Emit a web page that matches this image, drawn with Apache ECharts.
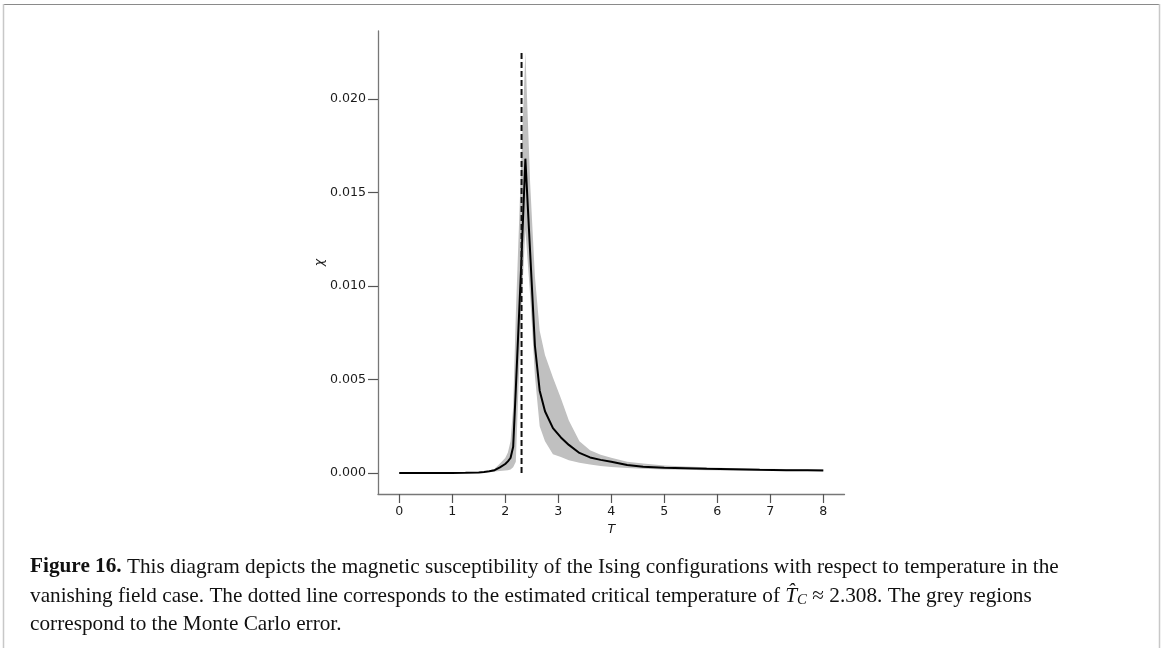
<!DOCTYPE html>
<html>
<head>
<meta charset="utf-8">
<script src="https://cdn.jsdelivr.net/npm/echarts@6/dist/echarts.min.js"></script>
<style>
html,body{margin:0;padding:0;background:#fff;}
#chart{width:1163px;height:648px;}
</style>
</head>
<body>
<div id="chart"></div>
<script>
// ---- data ----
const T = [0, 0.25, 0.5, 0.75, 1.0, 1.25, 1.5, 1.6, 1.7, 1.8, 1.9, 2.0, 2.05, 2.1, 2.15, 2.2, 2.3, 2.38, 2.47, 2.56, 2.65, 2.75, 2.9, 3.05, 3.2, 3.4, 3.6, 3.8, 4.0, 4.3, 4.6, 5.0, 5.4, 5.8, 6.3, 6.8, 7.3, 7.7, 8.0];
const chi = [0, 0, 0, 0.000001, 0.000003, 0.000008, 0.00003, 0.00005, 0.00009, 0.00015, 0.0003, 0.00048, 0.00062, 0.0008, 0.0014, 0.0045, 0.011, 0.0168, 0.0118, 0.0068, 0.0044, 0.0033, 0.0024, 0.0019, 0.0015, 0.00107, 0.00083, 0.0007, 0.0006, 0.00043, 0.00033, 0.00028, 0.00025, 0.00022, 0.0002, 0.00017, 0.00015, 0.00014, 0.00013];
const chiHigh = [0, 0, 0, 0.000001, 0.000004, 0.00001, 0.00004, 0.00007, 0.00013, 0.00022, 0.0005, 0.0008, 0.0011, 0.0017, 0.0035, 0.0085, 0.0165, 0.0225, 0.0155, 0.0105, 0.0076, 0.0063, 0.0051, 0.004, 0.0028, 0.0017, 0.00122, 0.00098, 0.00082, 0.0006, 0.0005, 0.0004, 0.00034, 0.0003, 0.00025, 0.00023, 0.00021, 0.0002, 0.0002];
const chiLow = [0, 0, 0, 0, 0.000002, 0.000006, 0.00002, 0.00003, 0.00005, 0.00008, 0.0001, 0.00013, 0.00015, 0.00018, 0.0003, 0.0006, 0.0085, 0.013, 0.0095, 0.0052, 0.0025, 0.0017, 0.001, 0.00085, 0.00068, 0.00055, 0.00045, 0.00037, 0.00032, 0.00026, 0.00022, 0.00019, 0.00017, 0.00015, 0.00013, 0.00012, 0.00011, 0.0001, 0.0001];
const Tc = 2.308;
const TcLineTop = 0.0225;
const xTicks = [0, 1, 2, 3, 4, 5, 6, 7, 8];
const yTicks = [0, 0.005, 0.01, 0.015, 0.02];
const xLabel = 'T';
const yLabel = 'χ';
const captionLines = [
  '{b|Figure 16.} This diagram depicts the magnetic susceptibility of the Ising configurations with respect to temperature in the',
  'vanishing field case. The dotted line corresponds to the estimated critical temperature of {i|T\u0302}{s|C} \u2248 2.308. The grey regions',
  'correspond to the Monte Carlo error.'
];

// ---- chart ----
const chart = echarts.init(document.getElementById('chart'), null, {renderer: 'canvas'});
const axisFont = 'DejaVu Sans';
const capFont = 'Liberation Serif';

// fit caption font so that the first line spans the same width as the reference
const mctx = document.createElement('canvas').getContext('2d');
mctx.font = 'bold 20px "' + capFont + '"';
let w1 = mctx.measureText('Figure 16.').width;
mctx.font = '20px "' + capFont + '"';
w1 += mctx.measureText(' This diagram depicts the magnetic susceptibility of the Ising configurations with respect to temperature in the').width;
const capSize = Math.max(18, Math.min(23, 20 * 1029 / w1));

const capRich = {
  b: {fontFamily: capFont, fontSize: capSize, fontWeight: 'bold', fill: '#111'},
  i: {fontFamily: capFont, fontSize: capSize, fontStyle: 'italic', fill: '#111'},
  s: {fontFamily: capFont, fontSize: capSize * 0.7, fontStyle: 'italic', fill: '#111', padding: [8, 0, 0, 0]}
};
const capY = [567, 596, 624];

const option = {
  animation: false,
  backgroundColor: '#fff',
  grid: {left: 378, top: 31, right: 318.5, bottom: 154, containLabel: false},
  xAxis: {
    type: 'value', min: -0.4, max: 8.4,
    name: xLabel, nameLocation: 'middle', nameGap: 26,
    nameTextStyle: {fontFamily: axisFont, fontStyle: 'italic', fontSize: 12.6, color: '#1a1a1a'},
    axisLine: {show: true, onZero: false, lineStyle: {color: '#777', width: 1.3}},
    axisTick: {show: true, inside: false, length: 9, customValues: xTicks, lineStyle: {color: '#555', width: 1.2}},
    axisLabel: {customValues: xTicks, margin: 11, fontFamily: axisFont, fontSize: 12.6, color: '#1a1a1a'},
    splitLine: {show: false}
  },
  yAxis: {
    type: 'value', min: -0.001124, max: 0.023624,
    name: yLabel, nameLocation: 'middle', nameGap: 50, nameRotate: 90,
    nameTextStyle: {fontFamily: axisFont, fontStyle: 'italic', fontSize: 12.6, color: '#1a1a1a'},
    axisLine: {show: true, onZero: false, lineStyle: {color: '#777', width: 1.3}},
    axisTick: {show: true, inside: false, length: 10, customValues: yTicks, lineStyle: {color: '#555', width: 1.2}},
    axisLabel: {customValues: yTicks, margin: 12, fontFamily: axisFont, fontSize: 12.6, color: '#1a1a1a',
      formatter: v => v.toFixed(3)},
    splitLine: {show: false}
  },
  series: [
    {
      type: 'custom', silent: true, z: 1,
      data: [[0, 0]],
      renderItem: function (params, api) {
        const pts = [];
        for (let i = 0; i < T.length; i++) pts.push(api.coord([T[i], chiHigh[i]]));
        for (let i = T.length - 1; i >= 0; i--) pts.push(api.coord([T[i], chiLow[i]]));
        return {type: 'polygon', shape: {points: pts}, style: {fill: '#c0c0c0', stroke: null}};
      }
    },
    {
      type: 'line', z: 2, symbol: 'none', silent: true,
      data: T.map((t, i) => [t, chi[i]]),
      lineStyle: {color: '#000', width: 2}
    },
    {
      type: 'line', z: 3, symbol: 'none', silent: true,
      data: [[Tc, 0], [Tc, TcLineTop]],
      lineStyle: {color: '#111', width: 2, type: [6, 3]}
    }
  ],
  graphic: [
    {type: 'line', shape: {x1: 3, y1: 4.5, x2: 1160, y2: 4.5}, style: {stroke: '#8a8a8a', lineWidth: 1.2}, silent: true},
    {type: 'line', shape: {x1: 3.5, y1: 4, x2: 3.5, y2: 660}, style: {stroke: '#c8c8c8', lineWidth: 1.5}, silent: true},
    {type: 'line', shape: {x1: 1159.5, y1: 4, x2: 1159.5, y2: 660}, style: {stroke: '#c8c8c8', lineWidth: 1.5}, silent: true}
  ].concat(captionLines.map((line, k) => ({
    type: 'text', x: 30, y: capY[k], silent: true,
    style: {
      text: line, rich: capRich,
      fontFamily: capFont, fontSize: capSize, fill: '#111',
      verticalAlign: 'middle', align: 'left'
    }
  })))
};
chart.setOption(option);
</script>
</body>
</html>
